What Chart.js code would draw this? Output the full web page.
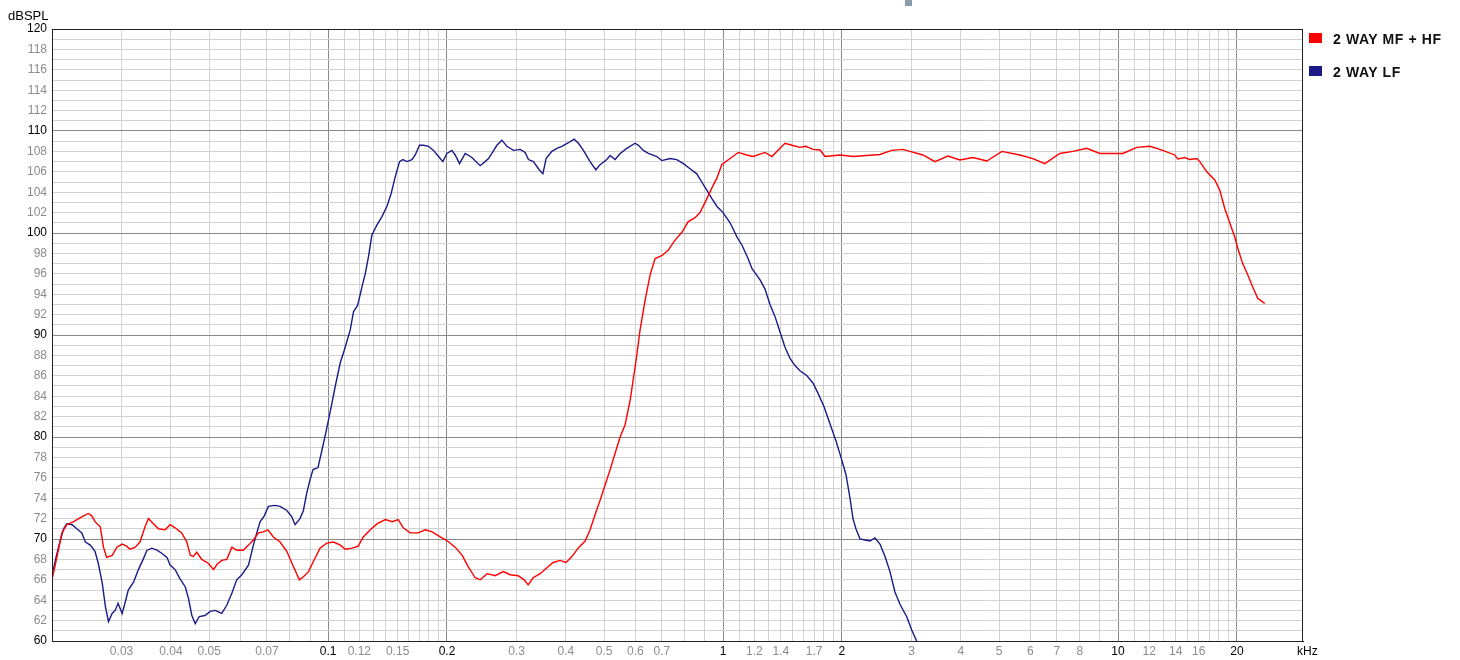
<!DOCTYPE html>
<html><head><meta charset="utf-8">
<script src="https://cdn.jsdelivr.net/npm/chart.js@4.4.1/dist/chart.umd.min.js"></script>
<style>
html,body{margin:0;padding:0;background:#fff;}
#wrap{position:relative;width:1460px;height:660px;overflow:hidden;font-family:"Liberation Sans",Arial,sans-serif;}
canvas{position:absolute;left:0;top:0;}
.t{position:absolute;white-space:nowrap;line-height:1;}
.lg{font-size:14px;font-weight:bold;letter-spacing:0.6px;color:#111;}
.sw{position:absolute;}
</style></head><body>
<div id="wrap">
<canvas id="c" width="1460" height="660"></canvas>
<div class="t" style="left:8px;top:9px;font-size:13px;color:#000">dBSPL</div>
<div class="t" style="left:1297px;top:645px;font-size:12px;color:#000">kHz</div>
<div class="sw" style="left:1309px;top:33px;width:13px;height:10px;background:#ff0000"></div>
<div class="t lg" style="left:1333px;top:32px;">2 WAY MF + HF</div>
<div class="sw" style="left:1309px;top:66px;width:13px;height:10px;background:#1c1a87"></div>
<div class="t lg" style="left:1333px;top:65px;">2 WAY LF</div>
<div class="sw" style="left:905px;top:0px;width:7px;height:6px;background:#8c9aaa"></div>
</div>
<script>
const seriesNames = ['2 WAY MF + HF', '2 WAY LF'];
const seriesColors = ['#ff0000', '#1c1a87'];

// kHz
const redFreq = [0.0200,0.0206,0.0212,0.0218,0.0227,0.0236,0.0247,0.0252,0.0257,0.0265,0.0270,0.0275,0.0284,0.0292,0.0301,0.0309,0.0315,0.0325,0.0334,0.0344,0.0351,0.0361,0.0372,0.0387,0.0398,0.0410,0.0426,0.0439,0.0448,0.0456,0.0465,0.0479,0.0498,0.0513,0.0523,0.0538,0.0554,0.0571,0.0587,0.0610,0.0629,0.0647,0.0666,0.0686,0.0704,0.0727,0.0756,0.0786,0.0817,0.0846,0.0866,0.0892,0.0918,0.0954,0.0992,0.1033,0.1074,0.1105,0.1151,0.1192,0.1228,0.1279,0.1332,0.1396,0.1454,0.1505,0.1550,0.1614,0.1691,0.1762,0.1835,0.1923,0.1991,0.2098,0.2186,0.2263,0.2358,0.2427,0.2528,0.2649,0.2775,0.2891,0.3029,0.3137,0.3210,0.3305,0.3443,0.3586,0.3714,0.3869,0.4006,0.4149,0.4296,0.4475,0.4607,0.4743,0.4884,0.5028,0.5177,0.5330,0.5488,0.5650,0.5817,0.6023,0.6165,0.6348,0.6536,0.6729,0.7009,0.7258,0.7561,0.7875,0.8155,0.8495,0.8746,0.9057,0.9363,0.9639,0.9925,1.042,1.093,1.148,1.193,1.277,1.330,1.386,1.435,1.495,1.566,1.622,1.689,1.760,1.812,1.977,2.133,2.496,2.672,2.854,2.973,3.207,3.439,3.710,3.978,4.291,4.656,5.081,5.643,6.087,6.528,7.124,7.685,8.338,8.994,10.28,11.16,12.04,12.98,13.92,14.17,14.76,15.19,15.83,16.11,16.78,17.58,18.10,18.63,19.18,19.75,20.10,20.69,21.30,21.93,22.58,23.52];
const redDb = [66.0,68.3,70.6,71.4,71.7,72.1,72.5,72.3,71.7,71.2,
69.2,68.2,68.4,69.2,69.5,69.3,69.0,69.2,69.7,71.2,
72.0,71.5,71.0,70.9,71.4,71.1,70.6,69.7,68.4,68.3,
68.7,68.0,67.6,67.0,67.5,67.9,68.0,69.2,68.9,68.9,
69.4,69.9,70.6,70.7,70.9,70.2,69.7,68.8,67.3,66.0,
66.3,66.8,67.8,69.1,69.6,69.7,69.4,69.0,69.1,69.3,
70.2,70.9,71.5,71.9,71.7,71.9,71.1,70.6,70.6,70.9,
70.7,70.2,69.9,69.2,68.4,67.3,66.2,66.0,66.6,66.4,
66.8,66.5,66.4,66.0,65.5,66.2,66.6,67.2,67.7,67.9,
67.7,68.3,69.1,69.8,70.9,72.4,73.8,75.3,76.8,78.4,
80.0,81.2,83.6,87.5,90.5,93.4,95.9,97.5,97.8,98.3,
99.3,100.1,101.1,101.5,102.0,103.2,104.4,105.35,106.7,107.3,
107.9,107.65,107.5,107.9,107.5,108.2,108.8,108.6,108.4,108.5,
108.2,108.14,107.5,107.65,107.5,107.7,108.1,108.2,108.0,107.65,
107.0,107.55,107.16,107.4,107.06,108.0,107.65,107.3,106.8,107.8,
108.0,108.3,107.8,107.8,108.4,108.5,108.1,107.65,107.25,107.4,
107.2,107.3,107.0,106.0,105.2,104.2,102.4,101.0,99.6,98.5,
97.0,95.9,94.7,93.6,93.1];

const blueFreq = [0.0201,0.0205,0.0210,0.0214,0.0218,0.0225,0.0231,0.0238,0.0243,0.0250,0.0257,0.0262,0.0268,0.0273,0.0278,0.0284,0.0289,0.0294,0.0301,0.0306,0.0312,0.0322,0.0331,0.0341,0.0348,0.0358,0.0369,0.0379,0.0391,0.0398,0.0410,0.0422,0.0435,0.0443,0.0452,0.0461,0.0472,0.0488,0.0503,0.0518,0.0538,0.0554,0.0571,0.0587,0.0605,0.0629,0.0647,0.0660,0.0673,0.0689,0.0706,0.0734,0.0756,0.0786,0.0809,0.0825,0.0849,0.0866,0.0883,0.0900,0.0916,0.0943,0.0966,0.0988,0.1019,0.1043,0.1074,0.1099,0.1138,0.1160,0.1188,0.1218,0.1242,0.1266,0.1291,0.1330,0.1369,0.1409,0.1445,0.1479,0.1517,0.1547,0.1584,0.1630,0.1662,0.1704,0.1745,0.1796,0.1849,0.1904,0.1953,0.1999,0.2058,0.2098,0.2152,0.2224,0.2313,0.2427,0.2498,0.2548,0.2598,0.2675,0.2754,0.2836,0.2947,0.3064,0.3155,0.3216,0.3311,0.3409,0.3498,0.3565,0.3686,0.3795,0.3907,0.4060,0.4197,0.4304,0.4431,0.4607,0.4763,0.4884,0.5078,0.5177,0.5330,0.5488,0.5706,0.5988,0.6105,0.6285,0.6471,0.6796,0.6997,0.7343,0.7636,0.7935,0.8251,0.8579,0.8833,0.9094,0.9363,0.9656,1.000,1.042,1.085,1.117,1.157,1.184,1.241,1.277,1.315,1.354,1.394,1.435,1.478,1.521,1.566,1.631,1.689,1.739,1.801,1.865,1.932,1.989,2.048,2.096,2.133,2.170,2.222,2.287,2.355,2.424,2.496,2.570,2.646,2.724,2.805,2.916,3.002,3.091];
const blueDb = [66.8,68.3,69.9,71.0,71.5,71.4,71.0,70.6,69.7,69.4,
68.8,67.6,65.7,63.4,61.9,62.7,63.0,63.7,62.7,63.7,
65.0,65.8,67.0,68.1,68.9,69.1,68.9,68.6,68.2,67.45,
67.0,66.1,65.3,64.2,62.5,61.7,62.4,62.5,62.9,63.0,
62.7,63.5,64.7,66.0,66.5,67.45,69.4,70.6,71.7,72.25,
73.2,73.3,73.2,72.8,72.2,71.4,72.0,72.8,74.5,75.8,
76.8,77.0,78.8,80.5,83.0,85.0,87.3,88.5,90.5,92.3,
92.9,94.7,96.0,97.7,99.8,100.8,101.6,102.6,103.9,105.5,
107.0,107.2,107.0,107.2,107.65,108.6,108.6,108.5,108.1,107.5,
107.0,107.8,108.1,107.65,106.8,107.8,107.4,106.6,107.0,107.3,
107.8,108.6,109.1,108.5,108.1,108.2,107.9,107.2,107.0,106.3,
105.8,107.3,108.0,108.3,108.5,108.85,109.2,108.8,108.1,107.0,
106.2,106.7,107.2,107.6,107.2,107.8,108.3,108.8,108.6,108.1,
107.8,107.5,107.1,107.3,107.2,106.8,106.3,105.8,105.0,104.2,
103.4,102.6,102.0,101.0,99.6,98.8,97.5,96.5,95.4,94.5,
93.0,91.8,90.3,88.8,87.7,87.0,86.5,86.0,85.3,84.3,
83.0,81.3,79.6,78.0,76.3,74.0,72.0,71.0,70.0,69.9,
69.8,70.1,69.5,68.3,66.8,64.8,63.6,62.4,61.1,60.0];

const xTicks = [0.02,0.03,0.04,0.05,0.06,0.07,0.08,0.09,
0.1,0.11,0.12,0.13,0.14,0.15,0.16,0.17,0.18,0.19,
0.2,0.3,0.4,0.5,0.6,0.7,0.8,0.9,
1,1.1,1.2,1.3,1.4,1.5,1.6,1.7,1.8,1.9,
2,3,4,5,6,7,8,9,
10,11,12,13,14,15,16,17,18,19,20];
const xTickLabels = ['','0.03','0.04','0.05','','0.07','','',
'0.1','','0.12','','','0.15','','','','',
'0.2','0.3','0.4','0.5','0.6','0.7','','',
'1','','1.2','','1.4','','','1.7','','',
'2','3','4','5','6','7','8','',
'10','','12','','14','','16','','','','20'];
const xMajor = [0.1,0.2,1,2,10,20];
const xMin = 0.02, xMax = 29.4;
const yMin = 60, yMax = 120;

const FONT = '"Liberation Sans", Arial, sans-serif';
Chart.defaults.font.family = FONT;

const frame = {
  id: 'frame',
  afterDraw(chart) {
    const {ctx, chartArea: a} = chart;
    ctx.save();
    ctx.strokeStyle = '#222';
    ctx.lineWidth = 1;
    ctx.strokeRect(a.left + 0.5, a.top + 0.5, a.right - a.left - 1, a.bottom - a.top);
    ctx.restore();
  }
};

new Chart(document.getElementById('c'), {
  type: 'line',
  data: {
    datasets: [
      {label: seriesNames[0], data: redFreq.map((f, i) => ({x: f, y: redDb[i]})), borderColor: seriesColors[0], borderWidth: 1.4, pointRadius: 0, tension: 0, fill: false},
      {label: seriesNames[1], data: blueFreq.map((f, i) => ({x: f, y: blueDb[i]})), borderColor: seriesColors[1], borderWidth: 1.4, pointRadius: 0, tension: 0, fill: false}
    ]
  },
  options: {
    responsive: false,
    devicePixelRatio: 1,
    animation: false,
    layout: {padding: {left: 0, right: 157, top: 29, bottom: 0}},
    plugins: {legend: {display: false}, tooltip: {enabled: false}},
    scales: {
      x: {
        type: 'logarithmic', min: xMin, max: xMax,
        afterBuildTicks: (axis) => { axis.ticks = xTicks.map(v => ({value: v})); },
        afterFit: (axis) => { axis.height = 19; },
        grid: {
          drawTicks: false,
          color: (c) => (c.tick && xMajor.includes(c.tick.value)) ? '#8a8a8a' : '#d2d2d2',
          lineWidth: 1
        },
        border: {display: true, color: '#000', width: 1},
        ticks: {
          autoSkip: false, maxRotation: 0, minRotation: 0, padding: 3,
          font: {size: 12},
          color: (c) => (c.tick && xMajor.includes(c.tick.value)) ? '#000' : '#8c8c8c',
          callback: (v, i) => xTickLabels[i]
        }
      },
      y: {
        type: 'linear', min: yMin, max: yMax,
        afterFit: (axis) => { axis.width = 52; },
        grid: {
          drawTicks: false,
          color: (c) => (c.tick && c.tick.value % 10 === 0) ? '#8a8a8a' : '#d2d2d2',
          lineWidth: 1
        },
        border: {display: true, color: '#000', width: 1},
        ticks: {
          stepSize: 1, autoSkip: false, padding: 5,
          font: {size: 12},
          color: (c) => (c.tick && c.tick.value % 10 === 0) ? '#000' : '#8c8c8c',
          callback: (v) => (v % 2 === 0) ? String(v) : ''
        }
      }
    }
  },
  plugins: [frame]
});
</script>
</body></html>
